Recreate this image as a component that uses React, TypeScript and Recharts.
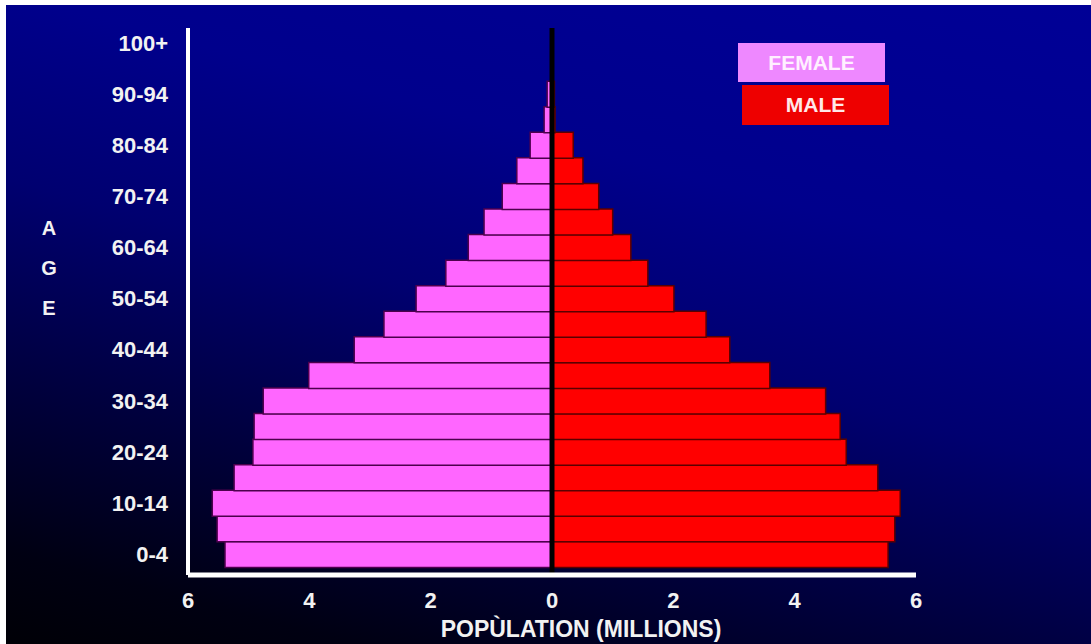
import React from 'react';
import { BarChart, Bar, XAxis, YAxis, ReferenceLine, Legend } from 'recharts';

const ageGroups = [
  '0-4', '5-9', '10-14', '15-19', '20-24', '25-29', '30-34', '35-39', '40-44', '45-49',
  '50-54', '55-59', '60-64', '65-69', '70-74', '75-79', '80-84', '85-89', '90-94', '95-99', '100+',
];
const femaleMillions = [
  5.39, 5.52, 5.6, 5.24, 4.93, 4.91, 4.76, 4.01, 3.26, 2.77,
  2.24, 1.75, 1.38, 1.12, 0.82, 0.58, 0.36, 0.13, 0.08, 0, 0,
];
const maleMillions = [
  5.54, 5.65, 5.74, 5.37, 4.85, 4.75, 4.51, 3.59, 2.93, 2.54,
  2.01, 1.58, 1.3, 1.0, 0.77, 0.51, 0.35, 0.05, 0.04, 0, 0,
];
const xTicks = [-6, -4, -2, 0, 2, 4, 6];
const seriesNames = { female: 'FEMALE', male: 'MALE' };
const axisTitle = 'POPÙLATION (MILLIONS)';
const ageTitle = ['A', 'G', 'E'];

const data = ageGroups.map((age, i) => ({
  age,
  female: -femaleMillions[i],
  male: maleMillions[i],
}));

const FONT = '"Liberation Sans", Arial, Helvetica, sans-serif';
const FEMALE_FILL = '#ff66ff';
const MALE_FILL = '#ff0000';
const legendStyle: Record<string, { bg: string; color: string; ml: number; h: number }> = {
  female: { bg: '#ee88ff', color: '#fff0ff', ml: 0, h: 39 },
  male: { bg: '#ee0000', color: '#ffe8e8', ml: 4, h: 40 },
};

const renderLegend = (props: any) => {
  const items = [...(props.payload ?? [])].sort((a: any, b: any) =>
    a.dataKey === 'female' ? -1 : b.dataKey === 'female' ? 1 : 0
  );
  return (
    <div style={{ display: 'flex', flexDirection: 'column', gap: 3 }}>
      {items.map((item: any) => {
        const s = legendStyle[item.dataKey];
        return (
          <div
            key={item.dataKey}
            style={{
              marginLeft: s.ml,
              width: 147,
              height: s.h,
              background: s.bg,
              color: s.color,
              fontFamily: FONT,
              fontWeight: 'bold',
              fontSize: 21,
              display: 'flex',
              alignItems: 'center',
              justifyContent: 'center',
            }}
          >
            {item.value}
          </div>
        );
      })}
    </div>
  );
};

const XTitle = (props: any) => {
  const vb = props.viewBox || {};
  return (
    <text
      x={vb.x + vb.width / 2 + 29}
      y={vb.y + 62}
      textAnchor="middle"
      fill="#f2f2f2"
      fontFamily={FONT}
      fontWeight="bold"
      fontSize={23}
    >
      {axisTitle}
    </text>
  );
};

const YTitle = (props: any) => {
  const vb = props.viewBox || {};
  return (
    <g>
      {ageTitle.map((ch, i) => (
        <text
          key={ch}
          x={vb.x + 49}
          y={vb.y + 207 + i * 40}
          textAnchor="middle"
          fill="#f2f2f2"
          fontFamily={FONT}
          fontWeight="bold"
          fontSize={20}
        >
          {ch}
        </text>
      ))}
    </g>
  );
};

export default function App() {
  return (
    <div style={{ position: 'absolute', left: 0, top: 0, width: 1091, height: 644, background: '#fff', overflow: 'hidden' }}>
      <div
        style={{
          position: 'absolute',
          left: 6,
          top: 5,
          width: 1085,
          height: 639,
          background:
            'linear-gradient(195deg, #000096 0%, #00008c 30%, #000070 50%, #00003c 72%, #000012 90%, #000006 100%)',
        }}
      />
      <div style={{ position: 'absolute', left: 0, top: 0 }}>
        <BarChart
          width={1091}
          height={644}
          data={data}
          layout="vertical"
          stackOffset="sign"
          barCategoryGap={0}
          margin={{ top: 28, right: 175, bottom: 0, left: 0 }}
        >
          <XAxis
            type="number"
            domain={[-6, 6]}
            ticks={xTicks}
            allowDataOverflow
            tickFormatter={(v: number) => String(Math.abs(v))}
            axisLine={{ stroke: '#ffffff', strokeWidth: 5 }}
            tickLine={false}
            tickSize={0}
            tickMargin={17}
            height={69}
            tick={{ fill: '#f2f2f2', fontFamily: FONT, fontWeight: 'bold', fontSize: 22 }}
            label={<XTitle />}
          />
          <YAxis
            type="category"
            dataKey="age"
            reversed
            interval={1}
            width={188}
            padding={{ top: 2, bottom: 8 }}
            axisLine={{ stroke: '#ffffff', strokeWidth: 4 }}
            tickLine={false}
            tickSize={0}
            tickMargin={20}
            tick={{ fill: '#f2f2f2', fontFamily: FONT, fontWeight: 'bold', fontSize: 22 }}
            label={<YTitle />}
          />
          <Legend
            content={renderLegend}
            layout="horizontal"
            verticalAlign="middle"
            align="center"
            wrapperStyle={{ left: 738, top: 43, width: 160, height: 90 }}
          />
          <Bar
            dataKey="female"
            name={seriesNames.female}
            stackId="pop"
            fill={FEMALE_FILL}
            stroke="#4d004d"
            strokeWidth={1.5}
            isAnimationActive={false}
          />
          <Bar
            dataKey="male"
            name={seriesNames.male}
            stackId="pop"
            fill={MALE_FILL}
            stroke="#5a0000"
            strokeWidth={1.5}
            isAnimationActive={false}
          />
          <ReferenceLine x={0} stroke="#000000" strokeWidth={5} ifOverflow="visible" />
        </BarChart>
      </div>
    </div>
  );
}
